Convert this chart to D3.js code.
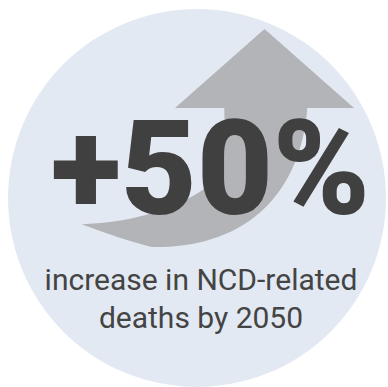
<!DOCTYPE html>
<html>
<head>
<meta charset="utf-8">
<script src="https://cdn.jsdelivr.net/npm/d3@7"></script>
<style>
  body { margin: 0; background: #fff; }
  svg { display: block; }
</style>
</head>
<body>
<svg id="chart"></svg>
<script>
// headline figure and caption
const headline = ['+50%'];
const caption = ['increase in NCD-related', 'deaths by 2050'];

// arrow outline in unit space (0..1 on both axes), drawn through scales
const arrowHead = [[0, 1], [0.5, 0], [1, 1]];
const shaftOuter = [[0.739, 1], [0.703, 2.04], [0.419, 2.78], [-0.13, 2.76], [-0.355, 2.62], [-0.52, 2.47]];
const shaftInner = [[-0.52, 2.47], [-0.29, 2.46], [-0.02, 2.32], [0.18, 2.0], [0.28, 1.78], [0.28, 1.35], [0.275, 1]];

const width = 388;
const height = 387;

const svg = d3.select('#chart')
  .attr('width', width)
  .attr('height', height);

// backdrop disc
svg.append('circle')
  .attr('cx', 197)
  .attr('cy', 198)
  .attr('r', 189)
  .attr('fill', '#e3e9f2');

// scales for the arrow: head spans x 175..354, y 29..108
const x = d3.scaleLinear().domain([0, 1]).range([175, 354]);
const y = d3.scaleLinear().domain([0, 1]).range([29, 108]);

const p = (pt) => `${x(pt[0])},${y(pt[1])}`;
const o = shaftOuter;
const n = shaftInner;
const arrowPath = `M${p(arrowHead[0])}L${p(arrowHead[1])}L${p(arrowHead[2])}`
  + `L${p(o[0])}C${p(o[1])} ${p(o[2])} ${p(o[3])}`
  + `C${p(o[4])} ${p(o[5])} ${p(o[5])}`
  + `C${p(n[1])} ${p(n[2])} ${p(n[3])}`
  + `C${p(n[4])} ${p(n[5])} ${p(n[6])}Z`;

svg.append('path')
  .attr('d', arrowPath)
  .attr('fill', '#b3b4b7');

svg.append('text')
  .attr('x', 51)
  .attr('y', 214)
  .style('font-family', 'Roboto, sans-serif')
  .style('font-weight', 900)
  .style('font-size', '131px')
  .attr('fill', '#404040')
  .text(headline[0]);

svg.selectAll('.caption')
  .data(caption)
  .join('text')
  .attr('class', 'caption')
  .attr('x', 201)
  .attr('y', (d, i) => 290 + i * 38)
  .attr('text-anchor', 'middle')
  .style('font-family', 'Roboto, sans-serif')
  .style('font-size', '30px')
  .attr('fill', '#444444')
  .text((d) => d);
</script>
</body>
</html>
